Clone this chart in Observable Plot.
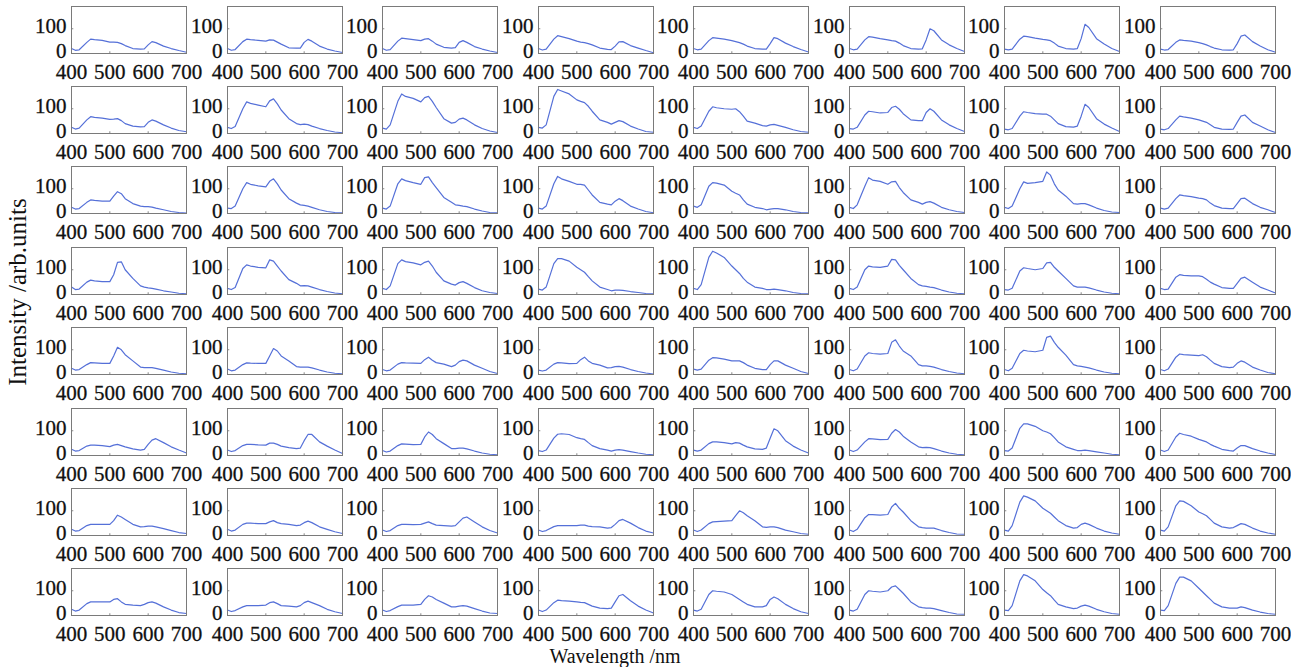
<!DOCTYPE html>
<html><head><meta charset="utf-8">
<script src="https://cdn.jsdelivr.net/npm/d3@7"></script>
<script src="https://cdn.jsdelivr.net/npm/@observablehq/plot@0.6"></script>
<style>
html,body{margin:0;padding:0;background:#fff;}
#chart{position:relative;width:1291px;height:667px;overflow:hidden;background:#fff;font-family:"Liberation Serif",serif;color:#111;}
.ytitle{position:absolute;left:17px;top:292px;transform:translate(-50%,-50%) rotate(-90deg);white-space:nowrap;font-size:25px;line-height:1;}
.xtitle{position:absolute;left:615px;top:656px;transform:translate(-50%,-50%);white-space:nowrap;font-size:20px;line-height:1;}
#chart svg g[aria-label$="tick label"] text{stroke:#111;stroke-width:0.3px;}
</style></head><body><div id="chart"><div class="ytitle">Intensity /arb.units</div><div class="xtitle">Wavelength /nm</div></div><script>
const wavelengths = [400,410,420,440,450,460,480,500,510,520,530,540,560,580,590,600,610,620,640,660,680,700];
const xTicks = [400,500,600,700];
const yTicks = [0,100];

const row1 = [
 [20,13,15,45,58,56,53,46,46,45,40,32,20,18,19,35,48,44,30,20,12,5],
 [20,13,16,48,58,56,53,50,55,54,46,38,23,22,22,45,57,50,30,18,10,4],
 [20,13,16,50,62,60,56,52,58,60,50,38,25,22,24,45,52,45,28,18,10,4],
 [20,14,18,58,72,68,60,50,46,44,40,35,22,17,16,30,47,48,32,22,12,3],
 [20,15,18,52,64,62,58,52,48,44,38,30,20,18,18,40,64,60,42,28,16,6],
 [20,15,18,55,68,66,60,55,52,50,42,32,20,18,19,55,100,92,55,35,20,8],
 [18,15,18,58,70,68,62,57,55,52,42,30,20,18,20,60,118,105,60,38,20,8],
 [18,14,16,45,55,53,50,44,40,35,28,22,15,14,15,40,70,75,48,30,15,5]
];
const row2 = [
 [25,18,22,55,68,65,62,57,58,60,52,40,30,27,28,45,55,50,35,22,12,7],
 [25,20,28,100,128,122,115,108,132,140,120,95,60,40,36,38,36,30,20,12,6,3],
 [22,18,35,130,160,150,142,128,145,150,130,105,60,42,45,58,62,55,35,20,10,4],
 [25,22,35,150,178,172,160,136,130,125,110,90,55,45,38,45,52,48,30,18,8,5],
 [25,20,30,90,108,104,100,98,100,88,70,50,42,32,30,35,37,33,25,15,8,5],
 [20,18,25,75,90,88,83,85,105,110,98,80,55,52,52,85,100,90,55,35,20,8],
 [18,15,20,70,88,85,80,78,78,70,55,40,28,26,30,70,118,105,60,38,22,8],
 [18,15,20,55,70,67,62,55,50,45,35,25,18,17,18,45,70,75,45,30,15,4]
];
const row3 = [
 [25,18,20,45,55,53,50,50,70,88,80,60,40,30,28,28,26,22,15,8,4,2],
 [22,20,30,100,125,118,112,108,130,140,120,95,60,42,35,33,30,25,15,8,4,3],
 [22,18,30,120,140,133,125,118,145,148,125,105,65,45,35,33,30,28,18,10,4,3],
 [22,18,30,120,150,140,130,118,118,115,95,75,45,38,35,50,60,52,30,18,8,3],
 [30,25,35,110,125,123,115,90,82,75,55,38,25,20,15,18,20,20,15,8,4,3],
 [25,20,35,110,145,135,130,118,128,130,105,85,55,45,38,45,48,42,25,15,8,4],
 [25,20,30,100,128,122,125,130,168,155,120,95,70,40,38,40,40,35,22,12,6,4],
 [22,18,22,60,75,72,68,62,60,55,42,32,22,20,20,40,60,62,40,25,15,4]
];
const row4 = [
 [30,20,22,50,58,55,52,52,80,130,132,100,65,35,30,27,25,22,15,10,5,3],
 [25,20,28,105,120,115,110,108,140,135,115,95,60,45,35,36,35,30,20,12,6,3],
 [25,20,35,125,140,133,128,120,130,135,115,90,55,42,38,48,52,45,28,15,8,4],
 [22,18,30,125,145,145,135,110,100,90,72,55,30,20,15,18,18,17,12,8,4,3],
 [25,20,40,150,175,168,150,115,100,85,65,50,30,25,20,20,22,20,15,8,4,3],
 [25,20,30,100,115,112,110,115,142,140,118,100,65,40,35,33,30,28,18,10,5,3],
 [20,18,25,95,108,105,100,105,128,130,110,95,65,35,30,30,30,27,18,10,5,3],
 [25,20,22,70,80,77,75,75,72,62,50,42,28,25,25,45,65,70,50,30,18,6]
];
const row5 = [
 [25,18,20,40,48,47,45,45,75,110,100,80,55,30,28,28,28,25,18,10,5,3],
 [22,15,18,40,47,46,45,45,75,105,95,75,55,32,30,30,30,27,18,10,5,3],
 [20,15,18,42,48,47,46,45,60,70,58,48,42,32,38,52,58,55,38,25,12,4],
 [18,14,18,42,48,47,44,45,60,70,55,45,38,27,28,32,33,30,20,12,6,2],
 [22,18,22,58,68,67,62,55,55,55,48,38,25,20,20,40,55,55,38,25,12,4],
 [20,15,22,75,88,85,82,85,130,140,115,95,75,40,35,35,33,30,20,12,6,3],
 [20,15,25,85,98,95,92,98,150,155,130,110,78,40,35,33,30,27,18,10,5,3],
 [20,15,22,70,83,80,78,76,80,72,58,45,32,28,30,45,55,50,30,18,8,3]
];
const row6 = [
 [25,18,20,38,42,42,40,36,42,45,40,35,27,22,25,45,62,68,52,35,22,10],
 [22,16,20,40,45,45,43,42,50,50,45,38,32,28,30,60,85,85,55,38,22,8],
 [20,14,18,40,47,46,44,45,75,95,85,68,48,28,28,30,30,27,18,10,5,3],
 [20,16,22,70,86,88,85,72,68,65,52,40,28,22,18,22,24,22,16,10,5,3],
 [22,18,22,48,55,55,52,47,52,50,42,35,27,25,30,70,108,100,60,38,22,10],
 [22,16,22,55,68,67,64,65,90,105,95,78,55,35,32,33,32,28,18,10,5,3],
 [20,18,30,110,128,128,118,100,95,88,72,55,35,25,20,20,22,20,15,10,5,3],
 [22,16,22,75,90,85,78,65,60,55,45,38,25,20,18,30,40,40,28,18,10,4]
];
const row7 = [
 [25,18,20,40,45,45,45,45,60,82,75,65,45,35,36,38,38,35,28,20,12,8],
 [25,18,22,45,50,50,48,48,55,60,52,48,45,40,42,52,58,52,35,25,15,8],
 [22,16,20,40,45,45,44,45,50,55,48,42,40,38,40,55,70,75,55,35,20,10],
 [22,16,20,36,40,40,40,40,42,42,38,36,35,30,32,45,60,65,50,32,18,10],
 [22,16,22,48,55,56,58,60,80,100,92,80,60,35,33,35,35,32,22,15,8,5],
 [22,16,25,72,85,84,82,85,115,130,110,95,60,35,32,30,30,30,20,12,6,5],
 [22,18,40,135,160,155,140,110,100,90,75,60,40,30,32,45,50,45,30,18,10,5],
 [22,18,35,120,140,138,120,95,88,80,65,50,35,30,32,40,48,45,30,18,10,5]
];
const row8 = [
 [25,18,22,48,55,55,55,55,65,68,55,45,42,40,45,52,55,50,35,22,12,8],
 [22,16,20,35,40,40,40,42,52,55,48,40,38,35,40,52,58,52,40,25,15,8],
 [22,16,20,36,42,42,42,45,65,80,75,65,50,35,35,38,40,38,28,18,10,8],
 [22,16,22,52,62,60,58,55,53,52,45,38,30,28,30,55,80,85,60,38,22,10],
 [22,18,25,85,100,98,95,85,75,65,55,45,35,35,40,65,75,68,45,28,15,8],
 [22,18,25,85,100,98,95,100,115,120,105,90,55,35,32,30,30,28,20,12,6,5],
 [22,20,40,140,165,160,140,105,92,80,62,45,35,28,30,38,42,38,25,15,8,5],
 [22,20,40,130,155,155,140,110,95,80,65,50,35,30,30,30,35,32,22,14,8,5]
];

const rows = [row1,row2,row3,row4,row5,row6,row7,row8];
const chart = document.getElementById("chart");
const frameW = 115, frameH = 47, mL = 45, mR = 22, mT = 2, mB = 30;
const colStep = 155.5, rowStep = 80.4, left0 = 71, top0 = 5.5;

rows.forEach((row, r) => row.forEach((spec, c) => {
  const data = wavelengths.map((w, i) => ({w, v: spec[i]}));
  const svg = Plot.plot({
    width: mL + frameW + mR, height: mT + frameH + mB,
    marginLeft: mL, marginRight: mR, marginTop: mT, marginBottom: mB,
    x: {domain: [400, 700]},
    y: {domain: [0, 190]},
    style: {background: "transparent", overflow: "visible", fontFamily: "Liberation Serif, serif", color: "#111", maxWidth: "none"},
    marks: [
      Plot.ruleX(xTicks.slice(1, -1), {y1: 0, y2: 7, stroke: "#888"}),
      Plot.ruleY(yTicks.slice(1), {x1: 400, x2: 406, stroke: "#888"}),
      Plot.line(data, {x: "w", y: "v", stroke: "#5570d8", strokeWidth: 1.2}),
      Plot.frame({stroke: "#7a7a7a"}),
      Plot.axisX({ticks: xTicks, tickSize: 0, tickPadding: 11, label: null, fontSize: 21}),
      Plot.axisY({ticks: yTicks, tickSize: 0, tickPadding: 5, dy: -2, label: null, fontSize: 21})
    ]
  });
  svg.style.position = "absolute";
  svg.style.left = (left0 + colStep * c - mL) + "px";
  svg.style.top = (top0 + rowStep * r - mT) + "px";
  chart.appendChild(svg);
}));
</script></body></html>
